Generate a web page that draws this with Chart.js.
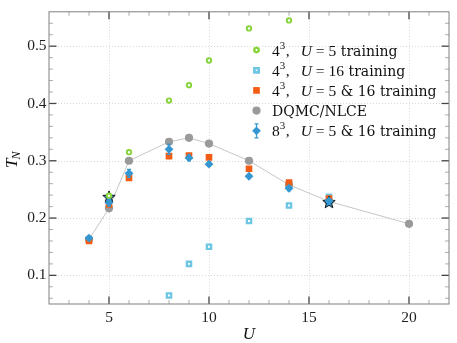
<!DOCTYPE html>
<html>
<head>
<meta charset="utf-8">
<script src="https://cdn.jsdelivr.net/npm/chart.js@4.4.1/dist/chart.umd.min.js"></script>
<style>
  html, body { margin: 0; padding: 0; background: #fff; }
</style>
</head>
<body>
<canvas id="chart" width="457" height="343"></canvas>
<script>
// axis ticks
const uTicks = [5, 10, 15, 20];
const uMinor = [3, 4, 6, 7, 8, 9, 11, 12, 13, 14, 16, 17, 18, 19, 21];
const tTicks = [0.1, 0.2, 0.3, 0.4, 0.5];
const tMinor = [0.06, 0.08, 0.12, 0.14, 0.16, 0.18, 0.22, 0.24, 0.26, 0.28,
  0.32, 0.34, 0.36, 0.38, 0.42, 0.44, 0.46, 0.48, 0.52, 0.54];

// 4^3, U = 5 training
const uGreen = [5, 6, 8, 9, 10, 12, 14];
const tGreen = [0.239, 0.315, 0.405, 0.432, 0.475, 0.531, 0.545];

// 4^3, U = 16 training
const uCyan = [8, 9, 10, 12, 14, 16];
const tCyan = [0.065, 0.120, 0.150, 0.195, 0.222, 0.237];

// 4^3, U = 5 & 16 training
const uOrange = [4, 5, 6, 8, 9, 10, 12, 14, 16];
const tOrange = [0.160, 0.224, 0.270, 0.308, 0.309, 0.306, 0.286, 0.262, 0.234];

// DQMC/NLCE
const uRef = [4, 5, 6, 8, 9, 10, 12, 14, 16, 20];
const tRef = [0.163, 0.217, 0.300, 0.333, 0.340, 0.330, 0.300, 0.258, 0.229, 0.190];

// 8^3, U = 5 & 16 training
const uBig = [4, 5, 6, 8, 9, 10, 12, 14, 16];
const tBig = [0.165, 0.227, 0.278, 0.320, 0.305, 0.294, 0.273, 0.252, 0.230];
const errBig = [0.003, 0.006, 0.007, 0.009, 0.005, 0.004, 0.003, 0.004, 0.003];

// training points (stars)
const uStar = [5, 16];
const tStar = [0.237, 0.228];

const SERIF = "'Liberation Serif', 'DejaVu Serif', serif";
const WORDS = "'DejaVu Serif', serif";
const C_GREEN = '#86d43a';
const C_CYAN = '#6cc6e4';
const C_ORANGE = '#f25c14';
const C_GRAY = '#9a9a9a';
const C_BLUE = '#3597d1';

function pts(xs, ys) {
  return xs.map((x, i) => ({ x, y: ys[i] }));
}

function makeStar() {
  const c = document.createElement('canvas');
  c.width = 16; c.height = 16;
  const g = c.getContext('2d');
  g.beginPath();
  for (let i = 0; i < 10; i++) {
    const r = i % 2 === 0 ? 6.5 : 2.8;
    const a = -Math.PI / 2 + i * Math.PI / 5;
    const px = 8 + r * Math.cos(a);
    const py = 8.5 + r * Math.sin(a);
    if (i === 0) g.moveTo(px, py); else g.lineTo(px, py);
  }
  g.closePath();
  g.fillStyle = C_BLUE;
  g.fill();
  g.lineWidth = 1;
  g.strokeStyle = '#111';
  g.stroke();
  return c;
}

// legend text pieces: [text, kind, gap after]
const mathU = (v) => [['4', 'n', 0], ['3', 'sup', 0.5], [',', 'n', 11], ['U', 'i', 4], ['=', 'n', 4], [v, 'n', 0]];
const legendRows = [
  { ds: 0, parts: [...mathU('5'), [' training', 'w', 0]] },
  { ds: 4, parts: [...mathU('16'), [' training', 'w', 0]] },
  { ds: 3, parts: [...mathU('5'), [' & 16 training', 'w', 0]] },
  { ds: 5, parts: [['DQMC/NLCE', 'w', 0]] },
  { ds: 1, parts: [['8', 'n', 0], ['3', 'sup', 0.5], [',', 'n', 11], ['U', 'i', 4], ['=', 'n', 4], ['5', 'n', 0], [' & 16 training', 'w', 0]] }
];

const framePlugin = {
  id: 'frame',
  beforeDatasetsDraw(chart) {
    const { ctx, chartArea: a, scales: { x, y } } = chart;
    ctx.save();
    ctx.strokeStyle = '#cfcfcf';
    ctx.lineWidth = 0.8;
    ctx.setLineDash([1, 2]);
    uTicks.forEach((v) => {
      const px = Math.round(x.getPixelForValue(v)) + 0.5;
      ctx.beginPath(); ctx.moveTo(px, a.top); ctx.lineTo(px, a.bottom); ctx.stroke();
    });
    tTicks.forEach((v) => {
      const py = Math.round(y.getPixelForValue(v)) + 0.5;
      ctx.beginPath(); ctx.moveTo(a.left, py); ctx.lineTo(a.right, py); ctx.stroke();
    });
    ctx.restore();
  },
  beforeDatasetDraw(chart, args) {
    if (args.index !== 1) return;
    const { ctx, scales: { x, y } } = chart;
    ctx.save();
    ctx.strokeStyle = C_BLUE;
    ctx.lineWidth = 1.2;
    uBig.forEach((u, i) => {
      const px = x.getPixelForValue(u);
      const y0 = y.getPixelForValue(tBig[i] - errBig[i]);
      const y1 = y.getPixelForValue(tBig[i] + errBig[i]);
      ctx.beginPath();
      ctx.moveTo(px, y0); ctx.lineTo(px, y1);
      ctx.moveTo(px - 2, y0); ctx.lineTo(px + 2, y0);
      ctx.moveTo(px - 2, y1); ctx.lineTo(px + 2, y1);
      ctx.stroke();
    });
    ctx.restore();
  },
  afterDraw(chart) {
    const { ctx, chartArea: a, scales: { x, y } } = chart;
    ctx.save();
    // ticks pointing inward on all four sides
    const tick = (x0, y0, x1, y1, major) => {
      ctx.strokeStyle = major ? '#444' : '#999';
      ctx.lineWidth = major ? 1.3 : 0.8;
      ctx.beginPath(); ctx.moveTo(x0, y0); ctx.lineTo(x1, y1); ctx.stroke();
    };
    uTicks.forEach((v) => {
      const px = x.getPixelForValue(v);
      tick(px, a.bottom, px, a.bottom - 7.5, true);
      tick(px, a.top, px, a.top + 7.5, true);
    });
    uMinor.forEach((v) => {
      const px = x.getPixelForValue(v);
      tick(px, a.bottom, px, a.bottom - 4, false);
      tick(px, a.top, px, a.top + 4, false);
    });
    tTicks.forEach((v) => {
      const py = y.getPixelForValue(v);
      tick(a.left, py, a.left + 7.5, py, true);
      tick(a.right, py, a.right - 7.5, py, true);
    });
    tMinor.forEach((v) => {
      const py = y.getPixelForValue(v);
      tick(a.left, py, a.left + 4, py, false);
      tick(a.right, py, a.right - 4, py, false);
    });
    ctx.strokeStyle = '#808080';
    ctx.lineWidth = 1;
    ctx.strokeRect(a.left, a.top, a.right - a.left, a.bottom - a.top);

    // axis titles
    ctx.fillStyle = '#111';
    ctx.textBaseline = 'alphabetic';
    ctx.textAlign = 'center';
    ctx.font = 'italic 17px ' + SERIF;
    ctx.fillText('U', (a.left + a.right) / 2, 339);

    ctx.save();
    ctx.translate(17, 168);
    ctx.rotate(-Math.PI / 2);
    ctx.textAlign = 'left';
    ctx.font = 'italic 17px ' + SERIF;
    ctx.fillText('T', 0, 0);
    const tw = ctx.measureText('T').width;
    ctx.font = 'italic 12px ' + SERIF;
    ctx.fillText('N', tw - 1, 3);
    ctx.restore();

    // legend
    const mx = 256.5;
    const tx = 272;
    legendRows.forEach((row, r) => {
      const cy = 50 + r * 20.2;
      const ds = chart.data.datasets[row.ds];
      if (row.ds === 1) {
        ctx.strokeStyle = C_BLUE;
        ctx.lineWidth = 1.2;
        ctx.beginPath();
        ctx.moveTo(mx, cy - 7); ctx.lineTo(mx, cy + 7);
        ctx.moveTo(mx - 2, cy - 7); ctx.lineTo(mx + 2, cy - 7);
        ctx.moveTo(mx - 2, cy + 7); ctx.lineTo(mx + 2, cy + 7);
        ctx.stroke();
      }
      ctx.fillStyle = ds.pointBackgroundColor;
      ctx.strokeStyle = ds.pointBorderColor;
      ctx.lineWidth = ds.pointBorderWidth;
      Chart.helpers.drawPoint(ctx, {
        pointStyle: ds.pointStyle,
        radius: ds.pointRadius,
        rotation: 0,
        borderWidth: ds.pointBorderWidth
      }, mx, cy);
      if (ds.pointBorderWidth) ctx.stroke();

      let cx = tx;
      ctx.textAlign = 'left';
      ctx.fillStyle = '#111';
      row.parts.forEach(([s, kind, gap]) => {
        let dy = 5.5;
        if (kind === 'sup') {
          ctx.font = '11px ' + SERIF;
          dy = -1.5;
        } else if (kind === 'i') {
          ctx.font = 'italic 15.5px ' + SERIF;
        } else if (kind === 'w') {
          ctx.font = '14px ' + WORDS;
        } else {
          ctx.font = '15.5px ' + SERIF;
        }
        ctx.fillText(s, cx, cy + dy);
        cx += ctx.measureText(s).width + gap;
      });
    });
    ctx.restore();
  }
};

new Chart(document.getElementById('chart'), {
  type: 'scatter',
  data: {
    datasets: [
      {
        label: '4^3, U = 5 training',
        data: pts(uGreen, tGreen),
        pointStyle: 'circle',
        pointRadius: 2.2,
        pointBorderWidth: 1.9,
        pointBorderColor: C_GREEN,
        pointBackgroundColor: '#ffffff'
      },
      {
        label: '8^3, U = 5 & 16 training',
        data: pts(uBig, tBig),
        pointStyle: 'rectRot',
        pointRadius: 4.4,
        pointBorderWidth: 0,
        pointBorderColor: C_BLUE,
        pointBackgroundColor: C_BLUE
      },
      {
        label: 'training',
        data: pts(uStar, tStar),
        pointStyle: makeStar(),
        pointRadius: 7,
        pointBorderWidth: 0
      },
      {
        label: '4^3, U = 5 & 16 training',
        data: pts(uOrange, tOrange),
        pointStyle: 'rect',
        pointRadius: 4.7,
        pointBorderWidth: 0,
        pointBorderColor: C_ORANGE,
        pointBackgroundColor: C_ORANGE
      },
      {
        label: '4^3, U = 16 training',
        data: pts(uCyan, tCyan),
        pointStyle: 'rect',
        pointRadius: 3,
        pointBorderWidth: 2.3,
        pointBorderColor: C_CYAN,
        pointBackgroundColor: '#ffffff'
      },
      {
        label: 'DQMC/NLCE',
        data: pts(uRef, tRef),
        showLine: true,
        borderColor: '#c6c6c6',
        borderWidth: 1,
        pointStyle: 'circle',
        pointRadius: 4.1,
        pointBorderWidth: 0,
        pointBorderColor: C_GRAY,
        pointBackgroundColor: C_GRAY
      }
    ]
  },
  options: {
    responsive: false,
    animation: false,
    devicePixelRatio: 1,
    layout: { padding: { top: 3, right: 8, left: 0, bottom: 0 } },
    plugins: {
      legend: { display: false },
      tooltip: { enabled: false }
    },
    scales: {
      x: {
        type: 'linear',
        min: 2,
        max: 22,
        afterBuildTicks(scale) { scale.ticks = uTicks.map((v) => ({ value: v })); },
        afterFit(scale) { scale.height = 39; },
        grid: { display: false, drawTicks: false },
        border: { display: false },
        ticks: {
          padding: 5,
          maxRotation: 0,
          color: '#222',
          font: { family: SERIF, size: 15.5 },
          callback: (v) => String(v)
        }
      },
      y: {
        type: 'linear',
        min: 0.05,
        max: 0.56,
        afterBuildTicks(scale) { scale.ticks = tTicks.map((v) => ({ value: v })); },
        afterFit(scale) { scale.width = 49; },
        grid: { display: false, drawTicks: false },
        border: { display: false },
        ticks: {
          padding: 2.5,
          color: '#222',
          font: { family: SERIF, size: 15.5 },
          callback: (v) => v.toFixed(1)
        }
      }
    }
  },
  plugins: [framePlugin]
});
</script>
</body>
</html>
